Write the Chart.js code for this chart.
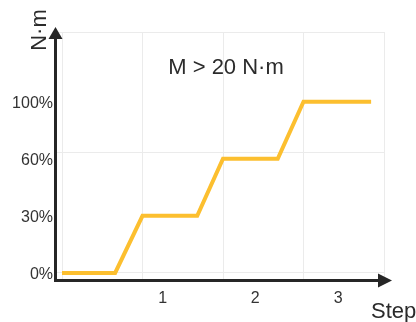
<!DOCTYPE html>
<html>
<head>
<meta charset="utf-8">
<script src="https://cdn.jsdelivr.net/npm/chart.js@4.4.1/dist/chart.umd.min.js"></script>
<style>
  body { margin: 0; background: #fff; }
</style>
</head>
<body>
<canvas id="chart" width="416" height="322"></canvas>
<script>
// step curve (x in grid units, y in torque levels)
var stepX = [0, 0.66, 1, 1.68, 2, 2.68, 3, 3.84];
var levelY = [0, 0, 1, 1, 2, 2, 3, 3];

// tick labels
var levelTicks = [0, 1, 2, 3];
var levelLabels = ['0%', '30%', '60%', '100%'];
var stepTicks = [1.25, 2.4, 3.43];
var stepLabels = ['1', '2', '3'];

// background grid lines
var gridX = [0, 1, 2, 3, 4];
var gridY = [0, 2.11, 4.22];

var note = 'M > 20 N\u00b7m';
var yTitle = 'N\u00b7m';
var xTitle = 'Step';

var font = '"Liberation Sans", Arial, sans-serif';
var dark = '#262626';

var points = [];
for (var i = 0; i < stepX.length; i++) {
    points.push({ x: stepX[i], y: levelY[i] });
}

function setTicks(values) {
    return function (scale) {
        scale.ticks = values.map(function (v) { return { value: v }; });
    };
}

// arrows and free text
var decor = {
    id: 'decor',
    afterDraw: function (chart) {
        var ctx = chart.ctx;
        var a = chart.chartArea;
        ctx.save();
        ctx.fillStyle = dark;
        // y arrow
        ctx.beginPath();
        ctx.moveTo(a.left + 0.5, a.top - 5);
        ctx.lineTo(a.left - 6.5, a.top + 7);
        ctx.lineTo(a.left + 7.5, a.top + 7);
        ctx.closePath();
        ctx.fill();
        // x arrow
        ctx.beginPath();
        ctx.moveTo(a.right + 8, a.bottom + 0.5);
        ctx.lineTo(a.right - 6, a.bottom - 6.5);
        ctx.lineTo(a.right - 6, a.bottom + 7.5);
        ctx.closePath();
        ctx.fill();

        ctx.fillStyle = '#2b2b2b';
        ctx.font = '22px ' + font;
        ctx.textAlign = 'center';
        ctx.textBaseline = 'alphabetic';
        ctx.fillText(note, 226, 74);

        ctx.textAlign = 'left';
        ctx.fillText(xTitle, 371, 318);

        ctx.translate(46, 30);
        ctx.rotate(-Math.PI / 2);
        ctx.textAlign = 'center';
        ctx.fillText(yTitle, 0, 0);
        ctx.restore();
    }
};

new Chart(document.getElementById('chart'), {
    type: 'line',
    data: {
        datasets: [{
            data: points,
            borderColor: '#FCBF2F',
            borderWidth: 4,
            borderJoinStyle: 'miter',
            pointRadius: 0,
            tension: 0,
            fill: false
        }]
    },
    options: {
        responsive: false,
        devicePixelRatio: 1,
        animation: false,
        layout: { padding: { top: 32, right: 32, left: 0, bottom: 0 } },
        plugins: { legend: { display: false }, tooltip: { enabled: false } },
        scales: {
            x: {
                type: 'linear', position: 'bottom', min: -0.087, max: 4,
                afterBuildTicks: setTicks(gridX),
                afterFit: function (s) { s.height = 0; },
                ticks: { display: false },
                grid: { color: '#ebebeb', drawTicks: false },
                border: { color: dark, width: 3 }
            },
            xl: {
                type: 'linear', position: 'bottom', min: -0.087, max: 4,
                afterBuildTicks: setTicks(stepTicks),
                afterFit: function (s) { s.height = 42; },
                ticks: {
                    padding: 9, color: '#333',
                    font: { family: font, size: 16 },
                    callback: function (v) { return stepLabels[stepTicks.indexOf(v)]; }
                },
                grid: { display: false, drawTicks: false },
                border: { display: false }
            },
            y: {
                type: 'linear', position: 'left', min: -0.123, max: 4.22,
                afterBuildTicks: setTicks(gridY),
                afterFit: function (s) { s.width = 0; },
                ticks: { display: false },
                grid: { color: '#ebebeb', drawTicks: false },
                border: { color: dark, width: 3 }
            },
            yl: {
                type: 'linear', position: 'left', min: -0.123, max: 4.22,
                afterBuildTicks: setTicks(levelTicks),
                afterFit: function (s) { s.width = 55; },
                ticks: {
                    padding: 2, labelOffset: 2, color: '#333',
                    font: { family: font, size: 16 },
                    callback: function (v) { return levelLabels[levelTicks.indexOf(v)]; }
                },
                grid: { display: false, drawTicks: false },
                border: { display: false }
            }
        }
    },
    plugins: [decor]
});
</script>
</body>
</html>
